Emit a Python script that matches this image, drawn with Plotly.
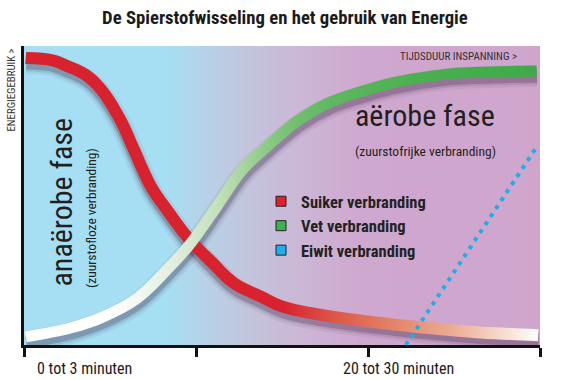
import plotly.graph_objects as go

# ---------------- data ----------------
title_text = "De Spierstofwisseling en het gebruik van Energie"
series_names = ["Suiker verbranding", "Vet verbranding", "Eiwit verbranding"]

tick_positions = [0, 1, 2, 3]
tick_labels = ["0 tot 3 minuten", "20 tot 30 minuten"]
tick_label_x = [0.35, 2.18]

suiker_x = [0.01, 0.16, 0.24, 0.36, 0.45, 0.56, 0.64, 0.74, 0.84, 0.95, 1.09,
            1.22, 1.38, 1.51, 1.80, 2.07, 2.26, 2.48, 2.65, 2.83, 2.99]
suiker_y = [96.0, 95.3, 93.6, 90.3, 85.3, 75.3, 65.2, 52.8, 44.5, 36.1, 27.8,
            20.7, 16.1, 12.7, 9.4, 7.4, 6.2, 5.0, 4.2, 3.7, 3.3]

vet_x = [0.01, 0.27, 0.46, 0.66, 0.83, 0.97, 1.12, 1.27, 1.41, 1.60, 1.77,
         2.01, 2.17, 2.46, 2.71, 2.98]
vet_y = [2.7, 5.7, 9.4, 15.7, 25.1, 34.1, 46.2, 58.5, 66.2, 75.3, 80.9,
         85.6, 88.0, 90.6, 91.3, 91.6]

eiwit_x = [2.22, 2.98]
eiwit_y = [0.0, 66.2]

# ---------------- style ----------------
FONT = "Roboto Condensed, DejaVu Sans Condensed, sans-serif"
RED = "#d8232f"
suiker_grad = [(0.0, RED), (1.51, RED), (1.80, "#dc5647"), (2.07, "#e27a60"),
               (2.26, "#e69277"), (2.48, "#ebaa92"), (2.65, "#f1c5b4"),
               (2.83, "#f8e3da"), (3.0, "#ffffff")]
vet_grad = [(0.0, "#ffffff"), (0.5, "#ffffff"), (0.66, "#f3f8f1"), (0.84, "#e4f0e0"),
            (0.97, "#d6e9d0"), (1.13, "#c2e1ba"), (1.26, "#a9d6a1"), (1.39, "#90cd88"),
            (1.49, "#7fc57a"), (1.59, "#70bf6c"), (1.78, "#5fb861"), (2.01, "#54b457"),
            (2.46, "#47ae4d"), (3.0, "#3eab48")]
legend_colors = ["#e31f2d", "#3cb44a", "#1cb0ef"]
EIWIT = "#1aaeea"

bg_stops_x = [-0.5, 0.82, 1.02, 1.31, 1.60, 1.95, 3.5]
bg_colors = ["#a6dff3", "#a6dff3", "#b4d4e8", "#c4c4dc", "#cbb7d6", "#cfa8cf", "#cfa4cb"]

# plot geometry (px)
L, R, T, B = 24, 22, 46, 35
W, H = 562, 380
PW, PH = W - L - R, H - T - B
SX, SY = PW / 3, PH / 100   # px per data unit


def px_x(px):
    return (px - L) / PW


def px_y(py):
    return (H - B - py) / PH


fig = go.Figure()

# background gradient
lo, hi = bg_stops_x[0], bg_stops_x[-1]
cs = [[(v - lo) / (hi - lo), c] for v, c in zip(bg_stops_x, bg_colors)]
fig.add_trace(go.Heatmap(x=bg_stops_x, y=[-20, 120], z=[bg_stops_x, bg_stops_x],
                         colorscale=cs, zsmooth="best", showscale=False,
                         hoverinfo="skip", xaxis="x", yaxis="y"))

# shadows (drawn on shifted axes)
for xs, ys in [(suiker_x, suiker_y), (vet_x, vet_y)]:
    for w, a in [(22, 0.06), (17, 0.11), (13, 0.22)]:
        fig.add_trace(go.Scatter(x=xs, y=ys, mode="lines",
                                 line=dict(color=f"rgba(45,25,55,{a})", width=w, shape="spline"),
                                 hoverinfo="skip", showlegend=False, xaxis="x2", yaxis="y2"))


def band_edges(xs, ys, width_px):
    """Offset the curve by +-width/2 px along its normal (in screen space)."""
    X = [x * SX for x in xs]
    Y = [y * SY for y in ys]
    n = len(xs)
    hw = width_px / 2
    ux, uy, lx, ly = [], [], [], []
    for i in range(n):
        a, b = max(i - 1, 0), min(i + 1, n - 1)
        tx, ty = X[b] - X[a], Y[b] - Y[a]
        ln = (tx * tx + ty * ty) ** 0.5
        nx, ny = -ty / ln, tx / ln
        ux.append((X[i] + nx * hw) / SX)
        uy.append((Y[i] + ny * hw) / SY)
        lx.append((X[i] - nx * hw) / SX)
        ly.append((Y[i] - ny * hw) / SY)
    return ux, uy, lx, ly


def gradient_line(xs, ys, grad, width):
    ux, uy, lx, ly = band_edges(xs, ys, width)
    cscale = [[p / 3.0, c] for p, c in grad]
    fig.add_trace(go.Scatter(x=lx, y=ly, mode="lines", line=dict(width=0, shape="spline"),
                             hoverinfo="skip", showlegend=False, xaxis="x3", yaxis="y3"))
    fig.add_trace(go.Scatter(x=ux, y=uy, mode="lines", line=dict(width=0, shape="spline"),
                             fill="tonexty",
                             fillgradient=dict(type="horizontal", colorscale=cscale,
                                               start=0, stop=3),
                             hoverinfo="skip", showlegend=False, xaxis="x3", yaxis="y3"))


gradient_line(suiker_x, suiker_y, suiker_grad, 12)
gradient_line(vet_x, vet_y, vet_grad, 11)

fig.add_trace(go.Scatter(x=eiwit_x, y=eiwit_y, mode="lines",
                         line=dict(color=EIWIT, width=4, dash="4px,5.6px"),
                         hoverinfo="skip", showlegend=False, xaxis="x3", yaxis="y3"))

# legend entries
for name, col in zip(series_names, legend_colors):
    fig.add_trace(go.Scatter(x=[None], y=[None], mode="markers", name=name,
                             marker=dict(symbol="square", size=10, color=col,
                                         line=dict(color="#222", width=1)),
                             xaxis="x3", yaxis="y3"))

dx = 0.5 / SX
dy = 5 / SY

annots = []
for lab, xv in zip(tick_labels, tick_label_x):
    annots.append(dict(x=xv, xref="x", y=px_y(368), yref="paper", text=lab,
                       showarrow=False, xanchor="center", yanchor="middle",
                       font=dict(family=FONT, size=16, color="#1a1a1a")))

annots += [
    dict(x=px_x(519), y=px_y(57), xref="paper", yref="paper", text="TIJDSDUUR INSPANNING >",
         showarrow=False, xanchor="right", yanchor="middle",
         font=dict(family=FONT, size=11, color="#333")),
    dict(x=px_x(11), y=px_y(47), xref="paper", yref="paper", text="ENERGIEGEBRUIK >",
         showarrow=False, xanchor="center", yanchor="top", textangle=-90,
         font=dict(family=FONT, size=10.8, color="#333")),
    dict(x=px_x(353), y=px_y(116), xref="paper", yref="paper", text="aërobe fase",
         showarrow=False, xanchor="left", yanchor="middle",
         font=dict(family=FONT, size=30, color="#231f20")),
    dict(x=px_x(353), y=px_y(151), xref="paper", yref="paper", text="(zuurstofrijke verbranding)",
         showarrow=False, xanchor="left", yanchor="middle",
         font=dict(family=FONT, size=13.5, color="#231f20")),
    dict(x=px_x(61), y=px_y(289), xref="paper", yref="paper", text="anaërobe fase",
         showarrow=False, xanchor="center", yanchor="bottom", textangle=-90,
         font=dict(family=FONT, size=30, color="#231f20")),
    dict(x=px_x(91), y=px_y(290), xref="paper", yref="paper", text="(zuurstofloze verbranding)",
         showarrow=False, xanchor="center", yanchor="bottom", textangle=-90,
         font=dict(family=FONT, size=13.5, color="#231f20")),
]

fig.update_layout(
    width=W, height=H,
    margin=dict(l=L, r=R, t=T, b=B),
    paper_bgcolor="white", plot_bgcolor="white",
    title=dict(text=f"<b>{title_text}</b>", x=0.507, xref="container", xanchor="center",
               y=1 - 17 / H, yref="container", yanchor="middle",
               font=dict(family=FONT, size=18.7, color="#1a1a1a")),
    xaxis=dict(range=[0, 3], showline=True, linecolor="#111", linewidth=3,
               ticks="outside", tickvals=tick_positions, ticklen=9, tickwidth=2.5,
               tickcolor="#111", showticklabels=False, showgrid=False, zeroline=False),
    yaxis=dict(range=[0, 100], showline=True, linecolor="#111", linewidth=3,
               ticks="", showticklabels=False, showgrid=False, zeroline=False),
    xaxis2=dict(range=[-dx, 3 - dx], overlaying="x", anchor="y2", visible=False),
    yaxis2=dict(range=[dy, 100 + dy], overlaying="y", anchor="x2", visible=False),
    xaxis3=dict(range=[0, 3], overlaying="x", anchor="y3", visible=False),
    yaxis3=dict(range=[0, 100], overlaying="y", anchor="x3", visible=False),
    showlegend=True,
    legend=dict(x=px_x(261), y=px_y(184), xanchor="left", yanchor="top",
                traceorder="normal", bgcolor="rgba(0,0,0,0)", borderwidth=0,
                font=dict(family=FONT, size=16.5, color="#222", weight="bold")),
    annotations=annots,
)

fig.write_html("out.html")
